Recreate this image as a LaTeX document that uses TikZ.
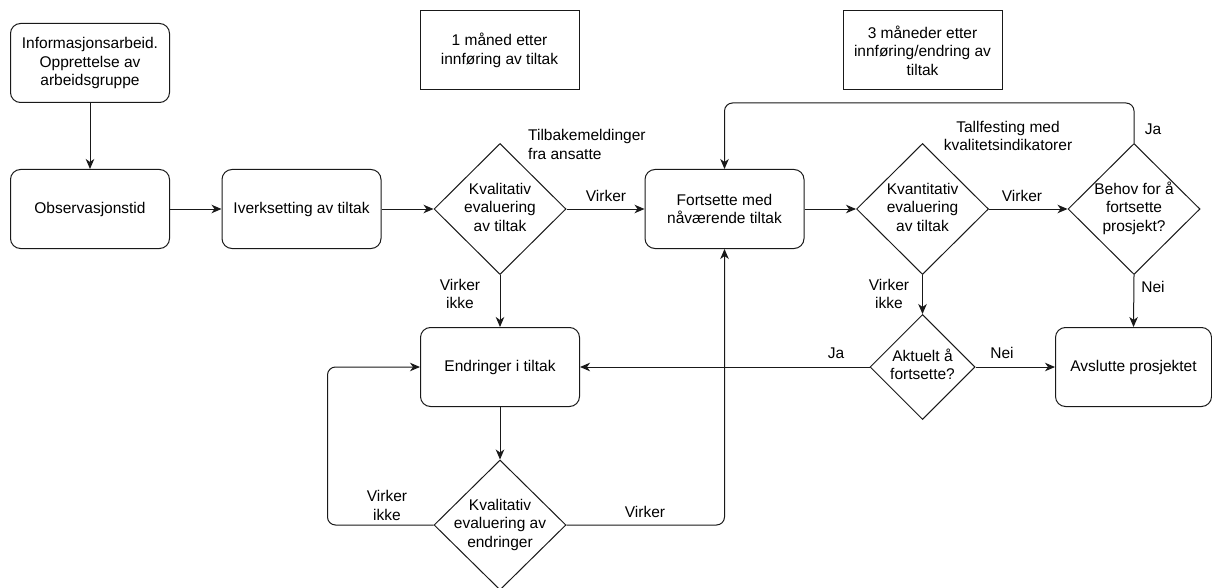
\documentclass[tikz,border=0pt]{standalone}
\usepackage{fontspec}
\setmainfont{Liberation Sans}
\usetikzlibrary{shapes.geometric,arrows.meta}
\newcommand\dtxt[1]{\makebox[0pt]{\begin{tabular}{@{}c@{}}#1\end{tabular}}}
\begin{document}
\begin{tikzpicture}[x=1pt,y=-1pt,
  every node/.style={font=\fontsize{15.5}{18.5}\selectfont},
  line/.style={line width=1pt, draw=black!90},
  arr/.style={line, -{Stealth[length=10pt,width=8.5pt,inset=3pt]}},
  rbox/.style={draw=black!90, line width=1pt, rounded corners=10pt, minimum width=159pt, minimum height=79pt, align=center, inner sep=2pt},
  sbox/.style={draw=black!90, line width=1pt, minimum width=159pt, minimum height=79pt, align=center},
  dia/.style={draw=black!90, diamond, line width=1pt, inner sep=0pt, minimum width=132pt, minimum height=131pt},
  lbl/.style={inner sep=0pt, align=center}
]
\useasboundingbox (0,0) rectangle (1212,588);

% boxes
\node[rbox] (info) at (90,63) {Informasjonsarbeid.\\Opprettelse av\\arbeidsgruppe};
\node[rbox] (obs) at (90,209) {Observasjonstid};
\node[rbox] (iver) at (301.5,209) {Iverksetting av tiltak};
\node[dia] (d1) at (500,209) {\dtxt{Kvalitativ\\evaluering\\av tiltak}};
\node[rbox] (fort) at (724.5,209) {Fortsette med\\nåværende tiltak};
\node[dia] (d2) at (922.5,209) {\dtxt{Kvantitativ\\evaluering\\av tiltak}};
\node[dia] (behov) at (1134,209) {\dtxt{Behov for å\\fortsette\\prosjekt?}};
\node[rbox] (endr) at (500,367) {Endringer i tiltak};
\node[dia, minimum width=105pt, minimum height=105pt] (akt) at (922.5,367) {\dtxt{Aktuelt å\\fortsette?}};
\node[rbox, minimum width=156pt] (avs) at (1133.5,367) {Avslutte prosjektet};
\node[dia, minimum height=130pt] (d3) at (500,525) {\dtxt{Kvalitativ\\evaluering av\\endringer}};

\node[sbox] (m1) at (499.5,50.5) {1 måned etter\\innføring av tiltak};
\node[sbox] (m3) at (922.5,50.5) {3 måneder etter\\innføring/endring av\\tiltak};

% labels
\node[lbl, align=left, anchor=west] (l1) at (528,144.5) {Tilbakemeldinger\\fra ansatte};
\node[lbl] (l2) at (606,196) {Virker};
\node[lbl] (l3) at (460,294) {Virker\\ikke};
\node[lbl] (l4) at (1008,136) {Tallfesting med\\kvalitetsindikatorer};
\node[lbl] (l5) at (1022,196) {Virker};
\node[lbl] (l6) at (1153,129) {Ja};
\node[lbl] (l7) at (1153,287) {Nei};
\node[lbl] (l8) at (889,294) {Virker\\ikke};
\node[lbl] (l9) at (836,353) {Ja};
\node[lbl] (l10) at (1002,353) {Nei};
\node[lbl] (l11) at (387,505.5) {Virker\\ikke};
\node[lbl] (l12) at (645,512) {Virker};

% connectors
\draw[arr] (info) -- (obs);
\draw[arr] (obs) -- (iver);
\draw[arr] (iver) -- (d1.west);
\draw[arr] (d1.east) -- (fort);
\draw[arr] (d1.south) -- (endr);
\draw[arr] (fort) -- (d2.west);
\draw[arr] (d2.east) -- (behov.west);
\draw[arr, rounded corners=8pt] (behov.north) -- ++(0,-40) -| (fort.north);
\draw[arr] (behov.south) -- (avs.north);
\draw[arr] (d2.south) -- (akt.north);
\draw[arr] (akt.east) -- (avs.west);
\draw[arr] (akt.west) -- (endr.east);
\draw[arr] (endr.south) -- (d3.north);
\draw[arr, rounded corners=8pt] (d3.west) -- ++(-106,0) |- (endr.west);
\draw[arr, rounded corners=8pt] (d3.east) -| (fort.south);
\end{tikzpicture}
\end{document}
